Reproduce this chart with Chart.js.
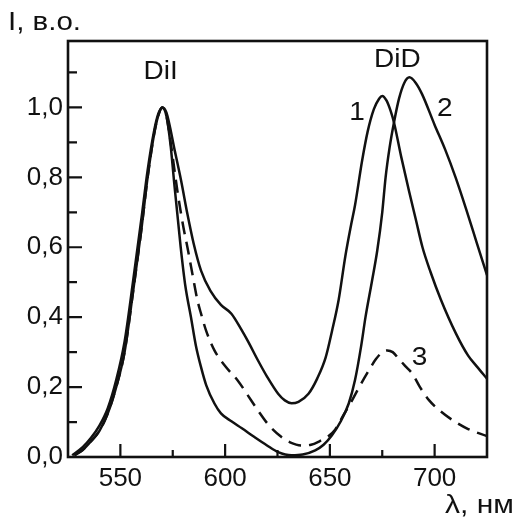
<!DOCTYPE html>
<html>
<head>
<meta charset="utf-8">
<script src="https://cdn.jsdelivr.net/npm/chart.js@4"></script>
<style>
  html, body { margin: 0; padding: 0; background: #fff; }
  #wrap { width: 518px; height: 518px; }
</style>
</head>
<body>
<div id="wrap"><canvas id="spectra" width="518" height="518"></canvas></div>
<script>
// wavelength (nm) and intensity (rel. units)
const curve1Wl = [527, 532, 536, 540, 544, 548, 552, 556, 560, 563, 566, 568, 570, 572, 576, 579, 582, 585, 588.5, 593, 598, 603, 607.7, 611, 615.7, 620, 625.3, 628.5, 631.7, 635, 639.8, 644, 648, 651, 654.2, 657.4, 660, 662, 665.4, 668, 671, 673.5, 675, 677, 679, 680.6, 684, 687.8, 691, 694.2, 698, 703, 710.2, 716, 720, 725];
const curve1I = [0.005, 0.028, 0.055, 0.09, 0.14, 0.22, 0.33, 0.5, 0.68, 0.82, 0.93, 0.98, 1.0, 0.985, 0.875, 0.79, 0.695, 0.61, 0.533, 0.475, 0.435, 0.41, 0.365, 0.33, 0.276, 0.23, 0.181, 0.162, 0.154, 0.158, 0.181, 0.225, 0.285, 0.36, 0.45, 0.575, 0.66, 0.72, 0.848, 0.93, 0.995, 1.025, 1.033, 1.02, 0.99, 0.957, 0.86, 0.76, 0.68, 0.6, 0.53, 0.45, 0.353, 0.29, 0.26, 0.224];

const curve2Wl = [528, 532, 536, 540, 544, 548, 552, 556, 560, 563, 566, 568, 570, 572, 574, 575.6, 578.8, 581, 583.7, 586, 588.5, 591, 594.9, 598, 603, 608, 614, 620, 625.3, 631.7, 637, 643, 647, 651, 655, 659, 662, 665, 667, 670, 672.6, 675, 676.6, 678.5, 680.6, 683, 685.5, 688, 691, 694, 700, 705, 710, 715, 720, 725];
const curve2I = [0.005, 0.02, 0.045, 0.075, 0.125, 0.2, 0.3, 0.47, 0.65, 0.8, 0.92, 0.975, 1.0, 0.975, 0.89, 0.79, 0.6, 0.49, 0.4, 0.32, 0.257, 0.205, 0.153, 0.125, 0.102, 0.082, 0.057, 0.033, 0.014, 0.005, 0.007, 0.019, 0.035, 0.062, 0.1, 0.153, 0.22, 0.32, 0.4, 0.5, 0.59, 0.7, 0.8, 0.885, 0.957, 1.025, 1.07, 1.086, 1.07, 1.038, 0.95, 0.88, 0.8, 0.71, 0.615, 0.52];

const curve3Wl = [528, 532, 536, 540, 544, 548, 552, 556, 560, 563, 566, 568, 570, 572, 574, 577.2, 580, 582, 584.5, 586.8, 588.5, 591, 594.9, 600, 606, 611, 615.7, 621, 626.9, 631, 636.5, 641, 645, 649.4, 652.5, 656, 660.6, 664, 668.6, 672, 675, 677.4, 680, 683, 686, 689.4, 693, 697.4, 703, 708.7, 716, 725];
const curve3I = [0.005, 0.02, 0.045, 0.075, 0.125, 0.2, 0.3, 0.47, 0.65, 0.8, 0.92, 0.975, 1.0, 0.975, 0.9, 0.762, 0.66, 0.6, 0.52, 0.448, 0.41, 0.36, 0.305, 0.26, 0.219, 0.175, 0.133, 0.09, 0.057, 0.042, 0.033, 0.035, 0.045, 0.06, 0.078, 0.115, 0.162, 0.2, 0.248, 0.28, 0.3, 0.305, 0.3, 0.28, 0.26, 0.238, 0.2, 0.162, 0.13, 0.105, 0.08, 0.06];

const xTicks = [550, 600, 650, 700];
const xMinor = [575, 625, 675];
const yTicks = [0, 0.2, 0.4, 0.6, 0.8, 1.0];
const yMinor = [0.1, 0.3, 0.5, 0.7, 0.9, 1.1];

// text labels placed in data units
const notes = [
    { text: 'DiI', x: 569.2, y: 1.10 },
    { text: 'DiD', x: 682.2, y: 1.136 },
    { text: '1', x: 663, y: 0.985 },
    { text: '2', x: 704.8, y: 0.996 },
    { text: '3', x: 692.8, y: 0.282 }
];

const ink = '#111';
const fontFamily = "'Liberation Sans', Arial, sans-serif";

function toPoints(xs, ys) {
    return xs.map((x, i) => ({ x: x, y: ys[i] }));
}

// text a bit wider than the font, like the scan
function wideText(ctx, text, px, py, sx) {
    ctx.save();
    ctx.translate(px, py);
    ctx.scale(sx, 1);
    ctx.fillText(text, 0, 0);
    ctx.restore();
}

const frame = {
    id: 'frame',
    afterDraw(chart) {
        const ctx = chart.ctx, a = chart.chartArea, x = chart.scales.x, y = chart.scales.y;
        ctx.save();
        ctx.strokeStyle = ink;
        ctx.lineWidth = 2.6;
        ctx.strokeRect(a.left, a.top, a.right - a.left, a.bottom - a.top);

        ctx.lineWidth = 2.2;
        ctx.beginPath();
        xTicks.forEach(v => { const p = x.getPixelForValue(v); ctx.moveTo(p, a.bottom); ctx.lineTo(p, a.bottom - 13); });
        xMinor.forEach(v => { const p = x.getPixelForValue(v); ctx.moveTo(p, a.bottom); ctx.lineTo(p, a.bottom - 7); });
        yTicks.forEach(v => { const p = y.getPixelForValue(v); ctx.moveTo(a.left, p); ctx.lineTo(a.left + 14, p); });
        yMinor.forEach(v => { const p = y.getPixelForValue(v); ctx.moveTo(a.left, p); ctx.lineTo(a.left + 9, p); });
        ctx.stroke();

        ctx.fillStyle = ink;
        ctx.font = '25px ' + fontFamily;
        ctx.textAlign = 'center';
        ctx.textBaseline = 'middle';
        notes.forEach(n => wideText(ctx, n.text, x.getPixelForValue(n.x), y.getPixelForValue(n.y), 1.12));

        ctx.textAlign = 'left';
        ctx.textBaseline = 'alphabetic';
        wideText(ctx, 'I, в.о.', 8, 30, 1.18);
        wideText(ctx, 'λ, нм', 445, 513, 1.2);
        ctx.restore();
    }
};

const solid = { borderColor: ink, borderWidth: 2.5, pointRadius: 0, cubicInterpolationMode: 'monotone', fill: false };

new Chart(document.getElementById('spectra'), {
    type: 'line',
    data: {
        datasets: [
            Object.assign({ label: '1', data: toPoints(curve1Wl, curve1I) }, solid),
            Object.assign({ label: '2', data: toPoints(curve2Wl, curve2I) }, solid),
            Object.assign({ label: '3', data: toPoints(curve3Wl, curve3I), borderDash: [13, 8] }, solid)
        ]
    },
    options: {
        responsive: false,
        animation: false,
        layout: { padding: { top: 41, right: 31, left: 0, bottom: 0 } },
        plugins: { legend: { display: false }, tooltip: { enabled: false } },
        scales: {
            x: {
                type: 'linear',
                min: 525,
                max: 725,
                afterBuildTicks: s => { s.ticks = xTicks.map(v => ({ value: v })); },
                afterFit: s => { s.height = 61; },
                grid: { display: false, drawTicks: false },
                border: { display: false },
                ticks: { color: ink, font: { size: 26, family: fontFamily }, padding: 6, maxRotation: 0, autoSkip: false }
            },
            y: {
                min: 0,
                max: 1.19,
                afterBuildTicks: s => { s.ticks = yTicks.map(v => ({ value: v })); },
                afterFit: s => { s.width = 68; },
                grid: { display: false, drawTicks: false },
                border: { display: false },
                ticks: {
                    color: ink,
                    font: { size: 26, family: fontFamily },
                    padding: 5,
                    callback: v => v.toFixed(1).replace('.', ',')
                }
            }
        }
    },
    plugins: [frame]
});
</script>
</body>
</html>
